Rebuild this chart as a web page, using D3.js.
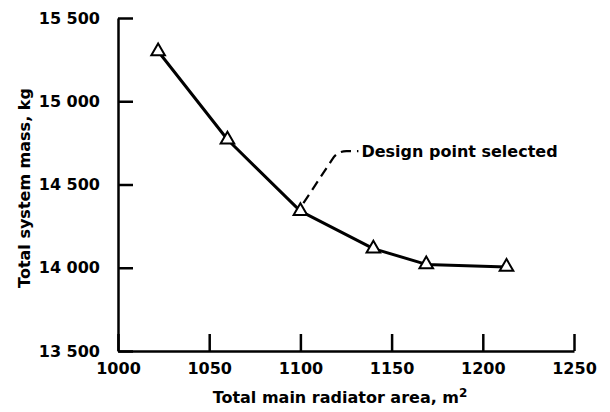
<!DOCTYPE html>
<meta charset="utf-8">
<style>
body { margin: 0; background: #fff; }
svg { display: block; }
.axis path, .axis line {
  fill: none;
  stroke: #000;
  stroke-width: 2.5;
}
.axis text {
  font: bold 16px "DejaVu Sans", sans-serif;
  fill: #000;
}
.title {
  font: bold 16px "DejaVu Sans", sans-serif;
  fill: #000;
}
</style>
<svg width="610" height="412"></svg>
<script src="https://d3js.org/d3.v7.min.js"></script>
<script>

// radiator area (m2) vs total system mass (kg)
var area = [1022, 1060, 1100, 1140, 1169, 1213];
var mass = [15300, 14770, 14340, 14115, 14020, 14005];
var selected = 2; // design point

var xTicks = [1000, 1050, 1100, 1150, 1200, 1250];
var xTickLabels = ["1000", "1050", "1100", "1150", "1200", "1250"];
var yTicks = [13500, 14000, 14500, 15000, 15500];
var yTickLabels = ["13 500", "14 000", "14 500", "15 000", "15 500"];

var svg = d3.select("svg"),
    margin = {top: 18, right: 36, bottom: 61, left: 118},
    width = svg.attr("width") - margin.left - margin.right,
    height = svg.attr("height") - margin.top - margin.bottom;

var x = d3.scaleLinear().domain([1000, 1250]).range([0, width]);
var y = d3.scaleLinear().domain([13500, 15500]).range([height, 0]);

var g = svg.append("g")
    .attr("transform", "translate(" + margin.left + "," + margin.top + ")");

g.append("g")
    .attr("class", "axis")
    .attr("transform", "translate(0," + height + ")")
    .call(d3.axisBottom(x)
      .tickValues(xTicks)
      .tickFormat(function(d, i) { return xTickLabels[i]; })
      .tickSizeInner(-17).tickSizeOuter(0).tickPadding(12));

g.append("g")
    .attr("class", "axis")
    .call(d3.axisLeft(y)
      .tickValues(yTicks)
      .tickFormat(function(d, i) { return yTickLabels[i]; })
      .tickSizeInner(-15).tickSizeOuter(0).tickPadding(18));

// axis titles
var xt = svg.append("text")
    .attr("class", "title")
    .attr("x", 340)
    .attr("y", 403)
    .attr("text-anchor", "middle");
xt.append("tspan").text("Total main radiator area, m");
xt.append("tspan").attr("dy", -6).style("font-size", "12px").text("2");

svg.append("text")
    .attr("class", "title")
    .attr("transform", "translate(30," + 188 + ") rotate(-90)")
    .attr("text-anchor", "middle")
    .text("Total system mass, kg");

var pts = area.map(function(a, i) { return [a, mass[i]]; });

g.append("path")
    .datum(pts)
    .attr("fill", "none")
    .attr("stroke", "#000")
    .attr("stroke-width", 3)
    .attr("stroke-linejoin", "round")
    .attr("d", d3.line()
      .x(function(d) { return x(d[0]); })
      .y(function(d) { return y(d[1]); }));

// leader to the selected point
var sx = x(area[selected]), sy = y(mass[selected]);
g.append("path")
    .attr("fill", "none")
    .attr("stroke", "#000")
    .attr("stroke-width", 2.2)
    .attr("stroke-dasharray", "10,6")
    .attr("d", "M" + (sx + 3) + "," + (sy - 8) +
      "L" + (sx + 32) + "," + (sy - 52) +
      "Q" + (sx + 37) + "," + (sy - 60) + " " + (sx + 46) + "," + (sy - 60) +
      "L" + (sx + 58) + "," + (sy - 60));

g.append("text")
    .attr("class", "title")
    .attr("x", sx + 61)
    .attr("y", sy - 54)
    .text("Design point selected");

g.selectAll(".pt")
    .data(pts)
    .enter().append("path")
    .attr("class", "pt")
    .attr("fill", "#fff")
    .attr("stroke", "#000")
    .attr("stroke-width", 2)
    .attr("transform", function(d) { return "translate(" + x(d[0]) + "," + y(d[1]) + ")"; })
    .attr("d", d3.symbol().type(d3.symbolTriangle).size(80));

</script>
